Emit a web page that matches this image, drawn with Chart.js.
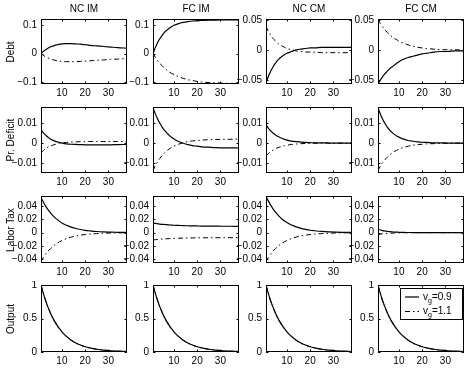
<!DOCTYPE html>
<html>
<head>
<meta charset="utf-8">
<script src="https://cdn.jsdelivr.net/npm/chart.js@4.4.0/dist/chart.umd.min.js"></script>
<style>
  body { margin: 0; background: #fff; }
  #fig { position: relative; width: 466px; height: 369px; overflow: hidden;
         font-family: "Liberation Sans", Arial, Helvetica, sans-serif; font-size: 10px; color: #000; }
  #fig canvas { position: absolute; }
  .ttl { position: absolute; text-align: center; line-height: 12px; }
  .rowlab { position: absolute; white-space: nowrap; line-height: 12px;
            transform: translate(-50%, -50%) rotate(-90deg); }
  #legend { position: absolute; left: 400px; top: 288px; width: 63px; height: 32px;
            border: 1px solid #000; background: #fff; box-sizing: border-box; filter: grayscale(100%); }
  #legend .it { position: absolute; left: 22px; line-height: 12px; white-space: nowrap; color: #000; }
  #legend sub { font-size: 7px; vertical-align: -3px; line-height: 0; }
</style>
</head>
<body>
<div id="fig">
  <div id="legend">
    <svg width="16" height="30" style="position:absolute;left:4px;top:0">
      <line x1="0" y1="8" x2="14" y2="8" stroke="#000" stroke-width="1.2"/>
      <line x1="0" y1="22.5" x2="14" y2="22.5" stroke="#000" stroke-width="1" stroke-dasharray="5,3,1.5,3"/>
    </svg>
    <div class="it" style="top:2px">v<sub>g</sub>=0.9</div>
    <div class="it" style="top:16px">v<sub>g</sub>=1.1</div>
  </div>
</div>
<script>
// periods on the horizontal axis
const steps = [1, 2, 3, 4, 5, 6, 7, 8, 9, 10, 12, 14, 16, 18, 20, 22, 25, 28, 31, 34, 38];
const columns = ['NC IM', 'FC IM', 'NC CM', 'FC CM'];
const rows = ['Debt', 'Pr. Deficit', 'Labor Tax', 'Output'];
const xTicks = [10, 20, 30];

// Debt
const debtNcImA = [0, .008, .014, .019, .023, .026, .029, .031, .033, .034, .035, .035, .034, .033, .031, .029, .027, .025, .023, .021, .019];
const debtNcImB = [0, -.006, -.011, -.015, -.018, -.021, -.023, -.025, -.026, -.027, -.028, -.028, -.028, -.027, -.026, -.025, -.023, -.022, -.020, -.019, -.017];
const debtFcImA = [0, .021, .039, .053, .065, .075, .082, .089, .094, .099, .105, .109, .112, .114, .115, .116, .117, .117, .118, .118, .118];
const debtFcImB = [0, -.013, -.025, -.035, -.043, -.051, -.058, -.064, -.069, -.073, -.081, -.086, -.091, -.094, -.097, -.099, -.101, -.102, -.103, -.104, -.104];
const debtNcCmA = [-.055, -.044, -.035, -.028, -.022, -.017, -.013, -.010, -.007, -.005, -.002, .001, .002, .003, .004, .004, .005, .005, .005, .005, .005];
const debtNcCmB = [.040, .032, .026, .020, .016, .012, .009, .007, .005, .003, .001, -.001, -.002, -.003, -.003, -.003, -.004, -.004, -.004, -.004, -.004];
const debtFcCmA = [-.056, -.050, -.044, -.039, -.035, -.031, -.028, -.025, -.022, -.019, -.015, -.012, -.010, -.008, -.006, -.005, -.003, -.002, -.002, -.001, -.001];
const debtFcCmB = [.051, .045, .039, .034, .030, .026, .023, .020, .018, .015, .012, .009, .007, .005, .004, .003, .002, .001, .001, .001, 0];

// Primary deficit
const defNcImA = [.0068, .0052, .0040, .0029, .0021, .0015, .0010, .0006, .0003, 0, -.0004, -.0006, -.0007, -.0008, -.0009, -.0009, -.0009, -.0009, -.0009, -.0008, -.0007];
const defNcImB = [-.0050, -.0038, -.0029, -.0021, -.0015, -.0011, -.0007, -.0004, -.0001, .0001, .0003, .0005, .0006, .0007, .0007, .0008, .0008, .0008, .0008, .0008, .0008];
const defFcImA = [.0180, .0148, .0122, .0099, .0080, .0064, .0050, .0039, .0029, .0021, .0008, -.0001, -.0008, -.0013, -.0016, -.0019, -.0021, -.0023, -.0024, -.0024, -.0025];
const defFcImB = [-.0140, -.0115, -.0095, -.0077, -.0062, -.0050, -.0039, -.0030, -.0022, -.0016, -.0006, .0002, .0007, .0011, .0013, .0015, .0017, .0018, .0019, .0019, .0020];
const defNcCmA = [.0093, .0076, .0062, .0051, .0042, .0034, .0028, .0023, .0019, .0015, .0010, .0007, .0005, .0003, .0002, .0001, .0001, 0, 0, 0, 0];
const defNcCmB = [-.0065, -.0053, -.0044, -.0036, -.0029, -.0024, -.0020, -.0016, -.0013, -.0011, -.0007, -.0005, -.0003, -.0002, -.0001, -.0001, 0, 0, 0, 0, 0];
const defFcCmA = [.0180, .0147, .0121, .0099, .0081, .0066, .0054, .0044, .0036, .0030, .0020, .0013, .0009, .0006, .0004, .0003, .0001, .0001, 0, 0, 0];
const defFcCmB = [-.0140, -.0118, -.0100, -.0085, -.0072, -.0061, -.0052, -.0044, -.0037, -.0031, -.0022, -.0016, -.0011, -.0008, -.0006, -.0004, -.0003, -.0002, -.0001, -.0001, 0];

// Labor tax
const taxNcImA = [.053, .046, .0398, .0345, .0299, .026, .0225, .0195, .0169, .0146, .011, .0083, .0062, .0047, .0035, .0027, .0017, .0011, .0007, .0005, .0003];
const taxNcImB = [-.043, -.0373, -.0323, -.028, -.0243, -.0211, -.0182, -.0158, -.0137, -.0119, -.0089, -.0067, -.005, -.0038, -.0028, -.0021, -.0014, -.0009, -.0006, -.0004, -.0002];
const taxFcImA = [.0145, .0139, .0134, .0129, .0125, .0122, .0119, .0116, .0113, .0111, .0108, .0105, .0103, .0101, .0100, .0099, .0098, .0097, .0096, .0096, .0095];
const taxFcImB = [-.0110, -.0106, -.0102, -.0099, -.0096, -.0094, -.0092, -.0090, -.0088, -.0086, -.0084, -.0082, -.0080, -.0079, -.0078, -.0078, -.0077, -.0076, -.0076, -.0076, -.0075];
const taxNcCmA = [.055, .0477, .0413, .0358, .0311, .027, .0233, .0202, .0175, .0152, .0114, .0086, .0064, .0048, .0036, .0028, .0018, .0012, .0008, .0005, .0003];
const taxNcCmB = [-.043, -.0373, -.0323, -.028, -.0243, -.0211, -.0182, -.0158, -.0137, -.0119, -.0089, -.0067, -.005, -.0038, -.0028, -.0021, -.0014, -.0009, -.0006, -.0004, -.0002];
const taxFcCmA = [.005, .0039, .003, .0024, .0018, .0014, .0011, .0009, .0007, .0005, .0003, .0002, .0001, .0001, 0, 0, 0, 0, 0, 0, 0];
const taxFcCmB = [-.003, -.0023, -.0018, -.0014, -.0011, -.0009, -.0007, -.0005, -.0004, -.0003, -.0002, -.0001, -.0001, 0, 0, 0, 0, 0, 0, 0, 0];

// Output (same shock in every column)
const outA = [1, .875, .765, .670, .587, .513, .449, .393, .344, .301, .231, .177, .135, .104, .079, .061, .041, .027, .018, .012, .007];
const outB = [1, .874, .764, .669, .586, .512, .448, .392, .343, .300, .230, .176, .134, .103, .078, .060, .040, .026, .017, .011, .006];

// y axis ticks
const debtImTicks = [-0.1, 0, 0.1];
const debtCmTicks = [-0.05, 0, 0.05];
const defTicks = [-0.01, 0, 0.01];
const taxTicks = [-0.04, -0.02, 0, 0.02, 0.04];
const outTicks = [0, 0.5, 1];

const panels = [
  [[debtNcImA, debtNcImB], [debtFcImA, debtFcImB], [debtNcCmA, debtNcCmB], [debtFcCmA, debtFcCmB]],
  [[defNcImA, defNcImB], [defFcImA, defFcImB], [defNcCmA, defNcCmB], [defFcCmA, defFcCmB]],
  [[taxNcImA, taxNcImB], [taxFcImA, taxFcImB], [taxNcCmA, taxNcCmB], [taxFcCmA, taxFcCmB]],
  [[outA, outB], [outA, outB], [outA, outB], [outA, outB]]
];
const yTicks = [
  [debtImTicks, debtImTicks, debtCmTicks, debtCmTicks],
  [defTicks, defTicks, defTicks, defTicks],
  [taxTicks, taxTicks, taxTicks, taxTicks],
  [outTicks, outTicks, outTicks, outTicks]
];
const yLimits = [
  [[-0.106, 0.121], [-0.106, 0.121], [-0.0565, 0.0525], [-0.0565, 0.0525]],
  [[-0.0152, 0.0183], [-0.0152, 0.0183], [-0.0152, 0.0183], [-0.0152, 0.0183]],
  [[-0.0456, 0.055], [-0.0456, 0.055], [-0.0456, 0.055], [-0.0456, 0.055]],
  [[0, 1], [0, 1], [0, 1], [0, 1]]
];

// layout of the plot boxes
const colLeft = [41, 153, 266, 378];
const colWidth = 86;
const rowTop = [19, 107, 196, 285];
const rowHeight = [65, 66, 67, 67];
const padL = 40, padT = 4, padR = 4, padB = 18;

const fig = document.getElementById('fig');
const font = { family: '"Liberation Sans", Arial, Helvetica, sans-serif', size: 10 };

// box around the plot and inward tick marks
const boxPlugin = {
  id: 'box',
  afterDraw(chart) {
    const { ctx, chartArea: a, scales: { x, y } } = chart;
    const t = 2.5;
    ctx.save();
    ctx.strokeStyle = '#000';
    ctx.lineWidth = 1;
    ctx.beginPath();
    x.ticks.forEach(tk => {
      const px = Math.round(x.getPixelForValue(tk.value)) + 0.5;
      ctx.moveTo(px, a.bottom); ctx.lineTo(px, a.bottom - t);
      ctx.moveTo(px, a.top); ctx.lineTo(px, a.top + t);
    });
    y.ticks.forEach(tk => {
      const py = Math.round(y.getPixelForValue(tk.value)) + 0.5;
      ctx.moveTo(a.left, py); ctx.lineTo(a.left + t, py);
      ctx.moveTo(a.right, py); ctx.lineTo(a.right - t, py);
    });
    ctx.stroke();
    ctx.strokeRect(a.left + 0.5, a.top + 0.5, a.right - a.left - 1, a.bottom - a.top - 1);
    ctx.restore();
  }
};

function fixPad(s) { s.paddingTop = 0; s.paddingBottom = 0; s.paddingLeft = 0; s.paddingRight = 0; }

columns.forEach((name, c) => {
  const d = document.createElement('div');
  d.className = 'ttl';
  d.style.left = colLeft[c] + 'px';
  d.style.width = colWidth + 'px';
  d.style.top = '3px';
  d.textContent = name;
  fig.appendChild(d);
});

rows.forEach((name, r) => {
  const d = document.createElement('div');
  d.className = 'rowlab';
  d.style.left = '11px';
  d.style.top = (rowTop[r] + rowHeight[r] / 2) + 'px';
  d.textContent = name;
  fig.appendChild(d);

  columns.forEach((_, c) => {
    const cv = document.createElement('canvas');
    const w = colWidth + padL + padR, h = rowHeight[r] + padT + padB;
    cv.width = w; cv.height = h;
    cv.style.left = (colLeft[c] - padL) + 'px';
    cv.style.top = (rowTop[r] - padT) + 'px';
    cv.style.width = w + 'px'; cv.style.height = h + 'px';
    fig.insertBefore(cv, document.getElementById('legend'));

    const [solid, dashed] = panels[r][c];
    const ticks = yTicks[r][c];
    const [ymin, ymax] = yLimits[r][c];

    new Chart(cv, {
      type: 'line',
      data: {
        datasets: [
          { label: 'v_g=0.9', data: steps.map((s, i) => ({ x: s, y: solid[i] })),
            borderColor: '#000', borderWidth: 1.2, pointRadius: 0, cubicInterpolationMode: 'monotone' },
          { label: 'v_g=1.1', data: steps.map((s, i) => ({ x: s, y: dashed[i] })),
            borderColor: '#000', borderWidth: 1, borderDash: [5, 3, 1.5, 3], pointRadius: 0, cubicInterpolationMode: 'monotone' }
        ]
      },
      options: {
        responsive: false,
        animation: false,
        devicePixelRatio: 1,
        layout: { padding: { left: 0, top: padT, right: padR, bottom: 0 } },
        plugins: { legend: { display: false }, tooltip: { enabled: false } },
        scales: {
          x: {
            type: 'linear', min: 1, max: 38,
            grid: { display: false, drawTicks: false },
            border: { display: false },
            ticks: { color: '#000', font, padding: 3, maxRotation: 0 },
            afterBuildTicks: s => { s.ticks = xTicks.map(v => ({ value: v })); },
            afterFit: s => { s.height = padB; fixPad(s); }
          },
          y: {
            type: 'linear', min: ymin, max: ymax,
            grid: { display: false, drawTicks: false },
            border: { display: false },
            ticks: { color: '#000', font, padding: 4,
                      callback: v => String(v).replace('-', '\u2212') },
            afterBuildTicks: s => { s.ticks = ticks.map(v => ({ value: v })); },
            afterFit: s => { s.width = padL; fixPad(s); }
          }
        }
      },
      plugins: [boxPlugin]
    });
  });
});
</script>
</body>
</html>
